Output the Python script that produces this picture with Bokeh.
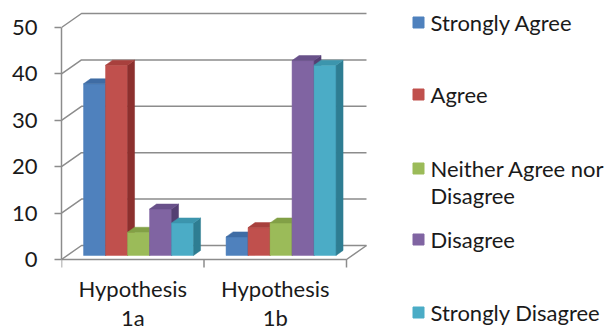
from bokeh.plotting import figure
from bokeh.models import Range1d, FixedTicker
from bokeh.core.properties import value
from bokeh.embed import file_html
from bokeh.resources import INLINE

# ---- data -------------------------------------------------------------
categories = ["Hypothesis\n1a", "Hypothesis\n1b"]
series_names = ["Strongly Agree", "Agree", "Neither Agree nor\nDisagree",
                "Disagree", "Strongly Disagree"]
strongly_agree = [37, 4]
agree = [41, 6]
neither = [5, 7]
disagree = [10, 42]
strongly_disagree = [7, 41]
y_ticks = [0, 10, 20, 30, 40, 50]

series_values = [strongly_agree, agree, neither, disagree, strongly_disagree]

# ---- styling ----------------------------------------------------------
front_colors = ["#4F81BD", "#C0504D", "#9BBB59", "#8064A2", "#4BACC6"]
top_colors = ["#3F6CA4", "#A8403D", "#82A046", "#69518A", "#3C95AD"]
side_colors = ["#2F5588", "#8C302E", "#6B8838", "#543F72", "#2E7D92"]
GRID = "#8c8c8c"
TEXT = "#1a1a1a"
FONT = "Lato"
FONT_SIZE = "22px"

W, H = 608, 329
LEFT = 61            # left border holding the value axis
PX_PER_CAT = 142.5   # pixels per category on the front plane
PX_PER_UNIT = 4.64   # pixels per value unit
FLOOR_PX = 259       # pixel row of value 0 on the front plane


def sx(px):
    return px / PX_PER_CAT


def sy(px):
    return px / PX_PER_UNIT


def at_x(px):
    return (px - LEFT) / PX_PER_CAT


def at_y(py):
    return (FLOOR_PX - py) / PX_PER_UNIT


WALL_DX, WALL_DY = sx(20), sy(14)   # oblique depth of the back wall
BAR_DEPTH = 0.29                    # where the bars sit between front and back
BAR_DX, BAR_DY = sx(7), sy(5)       # depth of a bar
BAR_W = sx(22)
n_cat = len(categories)
n_ser = len(series_values)

p = figure(width=W, height=H,
           x_range=Range1d(0, (W - LEFT) / PX_PER_CAT),
           y_range=Range1d(-(H - FLOOR_PX) / PX_PER_UNIT, FLOOR_PX / PX_PER_UNIT),
           output_backend="svg", toolbar_location=None,
           x_axis_location=None, y_axis_location="left",
           min_border_left=LEFT, min_border_right=0,
           min_border_top=0, min_border_bottom=0)
p.grid.visible = False
p.outline_line_color = None
p.background_fill_color = "white"
p.border_fill_color = "white"

yax = p.yaxis[0]
yax.ticker = FixedTicker(ticks=y_ticks)
yax.bounds = (y_ticks[0], y_ticks[-1])
yax.axis_line_color = GRID
yax.axis_line_width = 1.5
yax.major_tick_line_color = GRID
yax.major_tick_line_width = 1.5
yax.major_tick_out = 7
yax.major_tick_in = 0
yax.minor_tick_line_color = None
yax.major_label_standoff = 17
yax.major_label_text_font = FONT
yax.major_label_text_font_size = FONT_SIZE
yax.major_label_text_color = TEXT

# ---- walls and floor --------------------------------------------------
gx, gy = [], []
for t in y_ticks:
    gx.append([0, WALL_DX, n_cat + WALL_DX])
    gy.append([t, t + WALL_DY, t + WALL_DY])
# floor front edge and right edge
gx.append([0, n_cat, n_cat + WALL_DX])
gy.append([0, 0, WALL_DY])
# category tick marks below the floor
for k in range(n_cat + 1):
    gx.append([k, k])
    gy.append([0, -sy(8)])
p.multi_line(gx, gy, line_color=GRID, line_width=1.5)

# ---- 3-D columns (painted back-to-front, left to right) --------------
px_, py_, pc = [], [], []
base = BAR_DEPTH * WALL_DY
for g in range(n_cat):
    start = g + 0.5 - n_ser * BAR_W / 2 + BAR_DEPTH * WALL_DX
    for i, vals in enumerate(series_values):
        x0 = start + i * BAR_W
        x1 = x0 + BAR_W
        top = base + vals[g]
        # front face
        px_.append([x0, x1, x1, x0])
        py_.append([base, base, top, top])
        pc.append(front_colors[i])
        # right side face
        px_.append([x1, x1 + BAR_DX, x1 + BAR_DX, x1])
        py_.append([base, base + BAR_DY, top + BAR_DY, top])
        pc.append(side_colors[i])
        # top face
        px_.append([x0, x1, x1 + BAR_DX, x0 + BAR_DX])
        py_.append([top, top, top + BAR_DY, top + BAR_DY])
        pc.append(top_colors[i])
p.patches(px_, py_, fill_color=pc, line_color=pc, line_width=0.5)

# ---- category labels --------------------------------------------------
p.text(x=[k + 0.5 for k in range(n_cat)], y=[at_y(274)] * n_cat, text=categories,
       text_align="center", text_baseline="top", text_line_height=1.1,
       text_font=value(FONT), text_font_size=value(FONT_SIZE), text_color=TEXT)

# ---- legend -----------------------------------------------------------
legend_rows = [22, 94, 168, 239, 312]
p.scatter(x=[at_x(418)] * n_ser, y=[at_y(r) for r in legend_rows], marker="square",
          size=11, fill_color=front_colors, line_color=front_colors)
p.text(x=[at_x(430)] * n_ser, y=[at_y(r - 14) for r in legend_rows], text=series_names,
       text_align="left", text_baseline="top", text_line_height=1.03,
       text_font=value(FONT), text_font_size=value(FONT_SIZE), text_color=TEXT)

open("out.html", "w").write(file_html(p, INLINE))
